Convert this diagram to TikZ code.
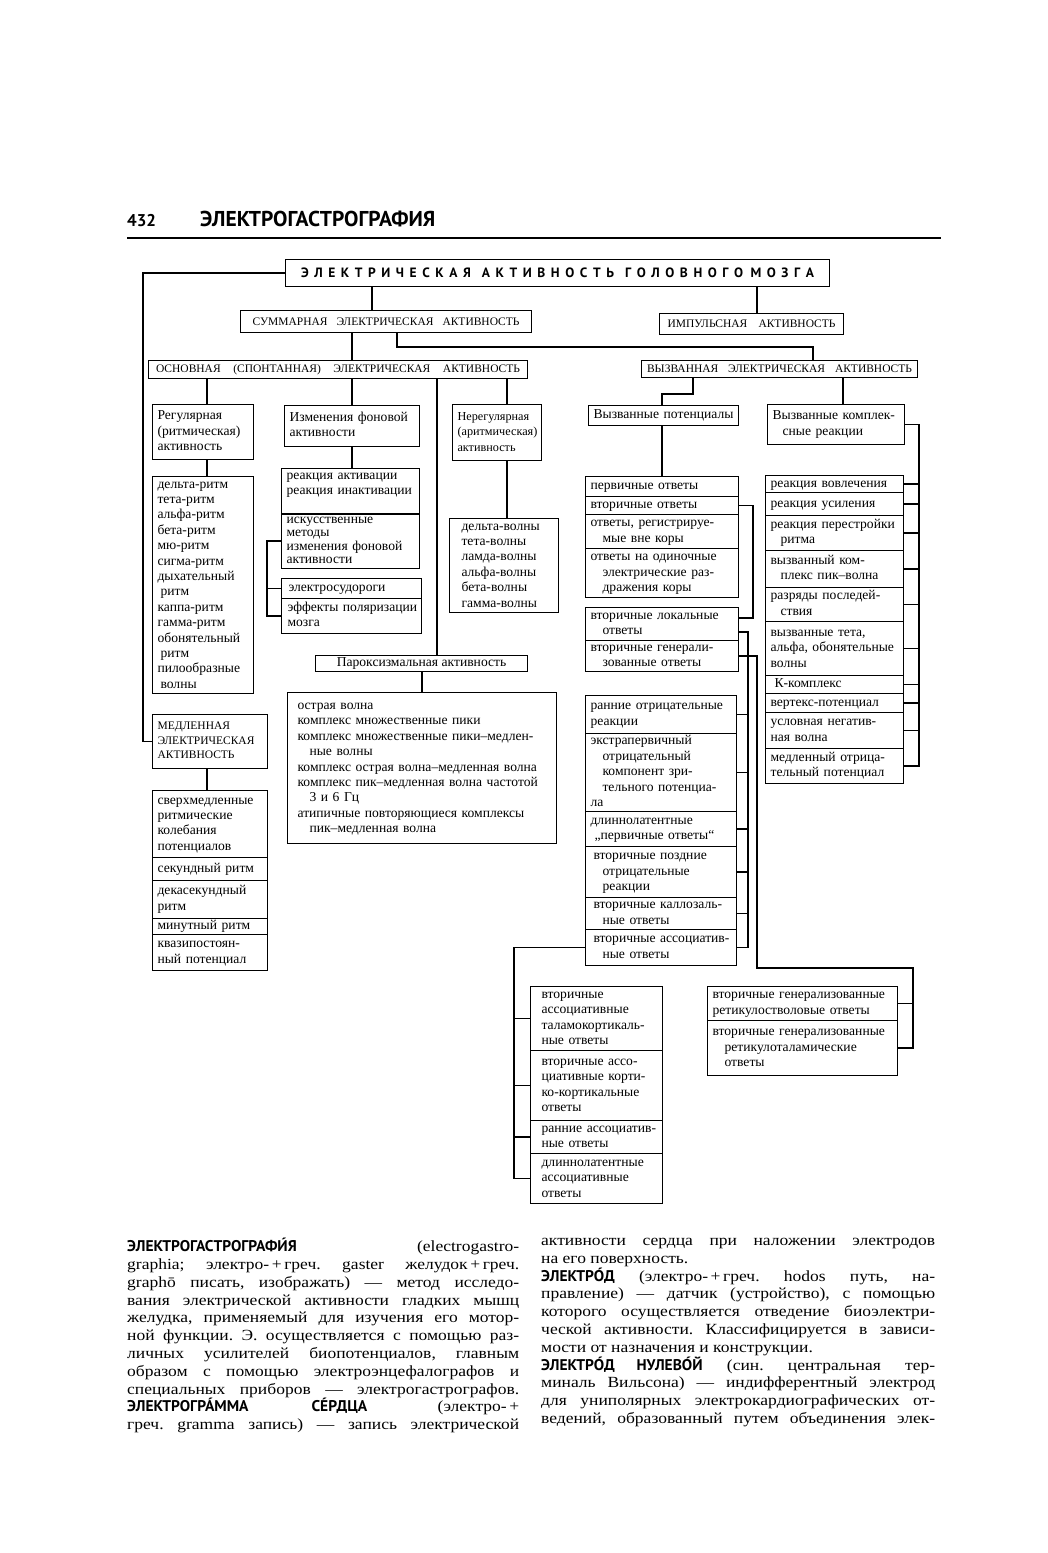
\documentclass[tikz,border=0pt]{standalone}
\usepackage{fontspec}
\setmainfont{Liberation Serif}
\newfontfamily\ptsans{PT Sans}
\newfontfamily\bodyf[FakeStretch=1.13]{Liberation Serif}
\newcommand\bxfont{\fontsize{13.6pt}{15.4pt}\selectfont}
\newcommand\capfont{\fontsize{11.5pt}{14.5pt}\selectfont}
\newcommand\bodyfont{\bodyf\fontsize{15.5pt}{17.8pt}\selectfont\frenchspacing}
\newcommand\hd[1]{{\ptsans\bfseries\fontsize{15.5pt}{17.8pt}\selectfont #1}}
\def\spreadit#1{\ifx\relax#1\else#1\hfill\expandafter\spreadit\fi}
\tikzset{
  box/.style={draw, line width=1.1pt, anchor=north west, inner xsep=5pt, inner ysep=0pt, font=\bxfont},
  conn/.style={line width=1.6pt},
}
\newcommand\bx[7][]{%
  \pgfmathsetmacro\mybw{#5-#3}\pgfmathsetmacro\mybh{#6-#4}\pgfmathsetmacro\mytw{#5-#3-10}%
  \node[box, minimum width=\mybw pt, minimum height=\mybh pt, text width=\mytw pt, align=left, #1] (#2) at (#3,#4) {\begin{tabular}{@{}l@{}}#7\end{tabular}};}
\newcommand\cbx[7][]{%
  \pgfmathsetmacro\mybw{#5-#3}\pgfmathsetmacro\mybh{#6-#4}%
  \node[box, minimum width=\mybw pt, minimum height=\mybh pt, #1] (#2) at (#3,#4) {#7};}
\begin{document}
\begin{tikzpicture}[x=1pt,y=-1pt]
\fill[white] (0,0) rectangle (1048,1553);
\useasboundingbox (0,0) rectangle (1048,1553);

% header
\node[anchor=base west, inner sep=0pt, font=\ptsans\bfseries\fontsize{17pt}{20pt}\selectfont] (pg) at (127,226) {432};
\node[anchor=base west, inner sep=0pt, font=\ptsans\bfseries\fontsize{21.5pt}{22pt}\selectfont] (ttl) at (200,226) {ЭЛЕКТРОГАСТРОГРАФИЯ};
\draw[line width=1.3pt] (127,238) -- (941,238);

\foreach \xx in {143,207,267,352,372,397,422,437,507,514,662,693,748,757,813,843,913,919} {\coordinate (x\xx) at (\xx,0);}
\coordinate (k968) at (913,968);

% top levels
\cbx[font=\ptsans\bfseries\fontsize{13.5pt}{15pt}\selectfont]{top}{285}{259}{829}{286}{\makebox[513pt][s]{\spreadit ЭЛЕКТРИЧЕСКАЯ\relax\hspace{0pt plus 1fill}\spreadit АКТИВНОСТЬ\relax\hspace{0pt plus 1fill}\spreadit ГОЛОВНОГО\relax\hspace{0pt plus 0.3fill}\spreadit МОЗГА\relax\unskip}}
\cbx[font=\capfont]{sum}{240}{310}{531}{332}{\makebox[267pt][s]{СУММАРНАЯ ЭЛЕКТРИЧЕСКАЯ АКТИВНОСТЬ}}
\cbx[font=\capfont]{imp}{659}{313}{843}{334}{\makebox[168pt][s]{ИМПУЛЬСНАЯ АКТИВНОСТЬ}}
\cbx[font=\capfont]{osn}{148}{360}{527}{378}{\makebox[364pt][s]{ОСНОВНАЯ \ (СПОНТАННАЯ) \ ЭЛЕКТРИЧЕСКАЯ \ АКТИВНОСТЬ}}
\cbx[font=\capfont]{vyz}{641}{360}{917}{377}{\makebox[265pt][s]{ВЫЗВАННАЯ ЭЛЕКТРИЧЕСКАЯ АКТИВНОСТЬ}}

% left column
\bx{reg}{152}{404}{253}{459}{Регулярная\\(ритмическая)\\активность}
\bx{ritm}{152}{476}{253}{693}{дельта-ритм\\тета-ритм\\альфа-ритм\\бета-ритм\\мю-ритм\\сигма-ритм\\дыхательный\\\hspace*{3pt}ритм\\каппа-ритм\\гамма-ритм\\обонятельный\\\hspace*{3pt}ритм\\пилообразные\\\hspace*{3pt}волны}
\bx[font=\capfont]{med}{152}{714}{267}{768}{МЕДЛЕННАЯ\\ЭЛЕКТРИЧЕСКАЯ\\АКТИВНОСТЬ}
\bx{sv}{152}{790}{267}{857}{сверхмедленные\\ритмические\\колебания\\потенциалов}
\bx{sek}{152}{857}{267}{880}{секундный ритм}
\bx{dek}{152}{880}{267}{918}{декасекундный\\ритм}
\bx{mnt}{152}{918}{267}{934}{минутный ритм}
\bx{kv}{152}{934}{267}{970}{квазипостоян-\\ный потенциал}

% second column
\bx{izm}{284}{405}{419}{446}{Изменения фоновой\\активности}
\bx{ra}{281}{468}{419}{513}{реакция активации\\реакция инактивации\\\mbox{}}
\bx[font={\fontsize{13.6pt}{13.1pt}\selectfont}]{isk}{281}{513}{419}{568}{искусственные\\методы\\изменения фоновой\\активности}
\bx[inner xsep=2pt]{el}{281}{578}{421}{598}{\hspace*{2pt}электросудороги}
\bx[inner xsep=2pt]{eff}{281}{598}{421}{633}{\hspace*{1pt}эффекты поляризации\\\hspace*{1pt}мозга}

% third column
\bx[font={\fontsize{12.2pt}{15.4pt}\selectfont}]{nereg}{452}{404}{541}{460}{Нерегулярная\\(аритмическая)\\активность}
\bx{vol}{449}{518}{558}{612}{\hspace*{7pt}дельта-волны\\\hspace*{7pt}тета-волны\\\hspace*{7pt}ламда-волны\\\hspace*{7pt}альфа-волны\\\hspace*{7pt}бета-волны\\\hspace*{7pt}гамма-волны}
\cbx{par}{315}{655}{527}{671}{Пароксизмальная активность}
\bx{pk}{287}{692}{556}{843}{\hspace*{5pt}острая волна\\\hspace*{5pt}комплекс множественные пики\\\hspace*{5pt}комплекс множественные пики–медлен-\\\hspace*{17pt}ные волны\\\hspace*{5pt}комплекс острая волна–медленная волна\\\hspace*{5pt}комплекс пик–медленная волна частотой\\\hspace*{17pt}3 и 6 Гц\\\hspace*{5pt}атипичные повторяющиеся комплексы\\\hspace*{17pt}пик–медленная волна}

% evoked potentials column
\bx[inner xsep=3pt]{vp}{588}{405}{738}{425}{Вызванные потенциалы}
\bx{a1}{585}{476}{738}{496}{первичные ответы}
\bx{a2}{585}{496}{738}{514}{вторичные ответы}
\bx{a3}{585}{514}{738}{548}{ответы, регистрируе-\\\hspace*{12pt}мые вне коры}
\bx{a4}{585}{548}{738}{597}{ответы на одиночные\\\hspace*{12pt}электрические раз-\\\hspace*{12pt}дражения коры}
\bx{b1}{585}{607}{738}{640}{вторичные локальные\\\hspace*{12pt}ответы}
\bx{b2}{585}{640}{738}{671}{вторичные генерали-\\\hspace*{12pt}зованные ответы}
\bx{c1}{585}{695}{736}{733}{ранние отрицательные\\реакции}
\bx{c2}{585}{733}{736}{811}{экстрапервичный\\\hspace*{12pt}отрицательный\\\hspace*{12pt}компонент зри-\\\hspace*{12pt}тельного потенциа-\\ла}
\bx{c3}{585}{811}{736}{846}{длиннолатентные\\\hspace*{4pt}„первичные ответы“}
\bx{c4}{585}{846}{736}{897}{\hspace*{3pt}вторичные поздние\\\hspace*{12pt}отрицательные\\\hspace*{12pt}реакции}
\bx{c5}{585}{897}{736}{929}{\hspace*{3pt}вторичные каллозаль-\\\hspace*{12pt}ные ответы}
\bx{c6}{585}{929}{736}{965}{\hspace*{3pt}вторичные ассоциатив-\\\hspace*{12pt}ные ответы}
\bx{d1}{530}{986}{662}{1050}{\hspace*{6pt}вторичные\\\hspace*{6pt}ассоциативные\\\hspace*{6pt}таламокортикаль-\\\hspace*{6pt}ные ответы}
\bx{d2}{530}{1050}{662}{1120}{\hspace*{6pt}вторичные ассо-\\\hspace*{6pt}циативные корти-\\\hspace*{6pt}ко-кортикальные\\\hspace*{6pt}ответы}
\bx{d3}{530}{1120}{662}{1153}{\hspace*{6pt}ранние ассоциатив-\\\hspace*{6pt}ные ответы}
\bx{d4}{530}{1153}{662}{1203}{\hspace*{6pt}длиннолатентные\\\hspace*{6pt}ассоциативные\\\hspace*{6pt}ответы}
\bx{r1}{707}{986}{897}{1020}{вторичные генерализованные\\ретикулостволовые ответы}
\bx{r2}{707}{1020}{897}{1075}{вторичные генерализованные\\\hspace*{12pt}ретикулоталамические\\\hspace*{12pt}ответы}

% evoked complex reactions column
\bx{vkr}{767}{404}{904}{444}{Вызванные комплек-\\\hspace*{10pt}сные реакции}
\bx{e1}{765}{475}{903}{492}{реакция вовлечения}
\bx{e2}{765}{492}{903}{515}{реакция усиления}
\bx{e3}{765}{515}{903}{550}{реакция перестройки\\\hspace*{10pt}ритма}
\bx{e4}{765}{550}{903}{587}{вызванный ком-\\\hspace*{10pt}плекс пик–волна}
\bx{e5}{765}{587}{903}{621}{разряды последей-\\\hspace*{10pt}ствия}
\bx{e6}{765}{621}{903}{675}{вызванные тета,\\альфа, обонятельные\\волны}
\bx{e7}{765}{675}{903}{693}{\hspace*{4pt}К-комплекс}
\bx{e8}{765}{693}{903}{712}{вертекс-потенциал}
\bx{e9}{765}{712}{903}{748}{условная негатив-\\ная волна}
\bx{e10}{765}{748}{903}{783}{медленный отрица-\\тельный потенциал}

% connectors
\draw[conn] (top.west) -| (x143 |- med.west) -- (med.west);
\draw[conn] (top.south -| x372) -- (sum.north -| x372);
\draw[conn] (top.south -| x757) -- (imp.north -| x757);
\draw[conn] (sum.south -| x352) -- (osn.north -| x352);
\draw[conn] (sum.south -| x397) -- ++(0,14) -| (vyz.north -| x813);
\draw[conn] (osn.south -| x207) -- (reg.north -| x207);
\draw[conn] (osn.south -| x352) -- (izm.north -| x352);
\draw[conn] (osn.south -| x437) -- (par.north -| x437);
\draw[conn] (osn.south -| x507) -- (nereg.north -| x507);
\draw[conn] (vyz.south -| x693) -- ++(0,16) -| (vp.north -| x662);
\draw[conn] (vyz.south -| x843) -- (vkr.north -| x843);
\draw[conn] (reg.south -| x207) -- (ritm.north -| x207);
\draw[conn] (med.south -| x207) -- (sv.north -| x207);
\draw[conn] (izm.south -| x352) -- (ra.north -| x352);
\draw[conn] (isk.west) -| (x267 |- eff.west) -- (eff.west);
\draw[conn] (el.west) -- (el.west -| x267);
\draw[conn] (nereg.south -| x507) -- (vol.north -| x507);
\draw[conn] (par.south -| x422) -- (pk.north -| x422);
\draw[conn] (vp.south -| x662) -- (a1.north -| x662);
\draw[conn] (a2.east) -- ++(14,0) |- ([yshift=6pt]b1.east);
\draw[conn] ([yshift=-8pt]b1.east) -| (x748 |- c6.east) -- (c6.east);
\foreach \n in {c1,c2,c3,c4,c5} {\draw[conn] (\n.east) -- (\n.east -| x748);}
\draw[conn] (b2.east) -| (x757 |- k968) -- (k968) |- (r2.east);
\draw[conn] (r1.east) -- (r1.east -| x913);
\draw[conn] (c6.west) -| (x514 |- d4.west) -- (d4.west);
\foreach \n in {d1,d2,d3} {\draw[conn] (\n.west) -- (\n.west -| x514);}
\draw[conn] (vkr.east) -| (x919 |- e10.east) -- (e10.east);
\foreach \n in {e1,e2,e3,e4,e5,e6,e7,e8,e9} {\draw[conn] (\n.east) -- (\n.east -| x919);}

% body text
\node[anchor=north west, inner sep=0pt, align=left, font=\bodyfont] (txtl) at (127,1238) {%
\makebox[392pt][s]{\hd{ЭЛЕКТРОГАСТРОГРАФИ́Я} (electrogastro-}\\
\makebox[392pt][s]{graphia; электро-\,+\,греч. gaster желудок\,+\,греч.}\\
\makebox[392pt][s]{graphō писать, изображать) — метод исследо-}\\
\makebox[392pt][s]{вания электрической активности гладких мышц}\\
\makebox[392pt][s]{желудка, применяемый для изучения его мотор-}\\
\makebox[392pt][s]{ной функции. Э. осуществляется с помощью раз-}\\
\makebox[392pt][s]{личных усилителей биопотенциалов, главным}\\
\makebox[392pt][s]{образом с помощью электроэнцефалографов и}\\
\makebox[392pt][s]{специальных приборов — электрогастрографов.}\\
\makebox[392pt][s]{\hd{ЭЛЕКТРОГРА́ММА СЕ́РДЦА} (электро-\,+}\\
\makebox[392pt][s]{греч. gramma запись) — запись электрической}};
\node[anchor=north west, inner sep=0pt, align=left, font=\bodyfont] (txtr) at (541,1238) {%
\makebox[394pt][s]{активности сердца при наложении электродов}\\
\makebox[394pt][l]{на его поверхность.}\\
\makebox[394pt][s]{\hd{ЭЛЕКТРО́Д} (электро-\,+\,греч. hodos путь, на-}\\
\makebox[394pt][s]{правление) — датчик (устройство), с помощью}\\
\makebox[394pt][s]{которого осуществляется отведение биоэлектри-}\\
\makebox[394pt][s]{ческой активности. Классифицируется в зависи-}\\
\makebox[394pt][l]{мости от назначения и конструкции.}\\
\makebox[394pt][s]{\hd{ЭЛЕКТРО́Д НУЛЕВО́Й} (син. центральная тер-}\\
\makebox[394pt][s]{миналь Вильсона) — индифферентный электрод}\\
\makebox[394pt][s]{для униполярных электрокардиографических от-}\\
\makebox[394pt][s]{ведений, образованный путем объединения элек-}};
\end{tikzpicture}
\end{document}
